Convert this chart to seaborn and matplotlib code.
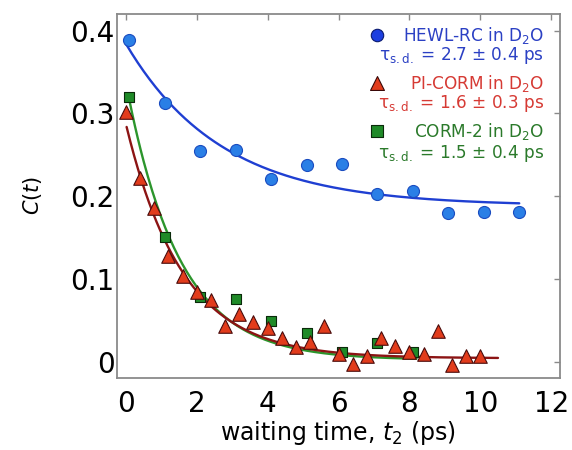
import numpy as np
import pandas as pd
import matplotlib
matplotlib.use("Agg")
import matplotlib.pyplot as plt
import seaborn as sns

# --- datos ---
hewl_t = [0.1, 1.1, 2.1, 3.1, 4.1, 5.1, 6.1, 7.1, 8.1, 9.1, 10.1, 11.1]
hewl_c = [0.389, 0.313, 0.254, 0.256, 0.220, 0.237, 0.239, 0.202, 0.206, 0.180, 0.181, 0.181]

picorm_t = [0.0, 0.4, 0.8, 1.2, 1.6, 2.0, 2.4, 2.8, 3.2, 3.6, 4.0, 4.4, 4.8,
            5.2, 5.6, 6.0, 6.4, 6.8, 7.2, 7.6, 8.0, 8.4, 8.8, 9.2, 9.6, 10.0]
picorm_c = [0.302, 0.222, 0.186, 0.127, 0.103, 0.084, 0.074, 0.043, 0.058, 0.048,
            0.040, 0.029, 0.018, 0.024, 0.043, 0.009, -0.003, 0.007, 0.029, 0.019,
            0.012, 0.009, 0.037, -0.004, 0.007, 0.007]

corm2_t = [0.1, 1.1, 2.1, 3.1, 4.1, 5.1, 6.1, 7.1, 8.1]
corm2_c = [0.320, 0.150, 0.078, 0.076, 0.049, 0.034, 0.012, 0.022, 0.012]

# parámetros de los ajustes exponenciales: C(t) = A exp(-t/tau) + C0
fit_hewl = dict(A=0.196, tau=2.7, C0=0.188, t0=0.0, t1=11.1)
fit_picorm = dict(A=0.283, tau=1.6, C0=0.004, t0=0.02, t1=10.5)
fit_corm2 = dict(A=0.335, tau=1.5, C0=0.002, t0=0.09, t1=8.2)

labels = ["HEWL-RC in D$_2$O", "PI-CORM in D$_2$O", "CORM-2 in D$_2$O"]
tau_labels = ["τ$_{\\rm s.d.}$ = 2.7 ± 0.4 ps",
              "τ$_{\\rm s.d.}$ = 1.6 ± 0.3 ps",
              "τ$_{\\rm s.d.}$ = 1.5 ± 0.4 ps"]


def fit_curve(p):
    t = np.linspace(p["t0"], p["t1"], 200)
    return pd.DataFrame({"t": t, "C": p["A"] * np.exp(-t / p["tau"]) + p["C0"]})


sns.set_theme(style="white")
plt.rcParams["font.family"] = ["DejaVu Sans"]
plt.rcParams["mathtext.fontset"] = "dejavusans"
plt.rcParams["text.color"] = "black"
plt.rcParams["axes.labelcolor"] = "black"

fig = plt.figure(figsize=(5.72, 4.5), dpi=100)
ax = fig.add_axes([0.204, 0.161, 0.775, 0.808])

# curvas de ajuste
sns.lineplot(data=fit_curve(fit_corm2), x="t", y="C", color="#2c952c", lw=1.7, ax=ax)
sns.lineplot(data=fit_curve(fit_picorm), x="t", y="C", color="#8c1414", lw=1.7, ax=ax)
sns.lineplot(data=fit_curve(fit_hewl), x="t", y="C", color="#1f3fd2", lw=1.7, ax=ax)

# puntos
sns.scatterplot(x=corm2_t, y=corm2_c, marker="s", s=55, color="#1f8a28",
                edgecolor="#0a2a0a", linewidth=0.8, ax=ax, zorder=3)
sns.scatterplot(x=picorm_t, y=picorm_c, marker="^", s=95, color="#e23c1c",
                edgecolor="#4a0c0c", linewidth=0.8, ax=ax, zorder=4)
sns.scatterplot(x=hewl_t, y=hewl_c, marker="o", s=75, color="#2a7fe6",
                edgecolor="#1a4cc0", linewidth=0.8, ax=ax, zorder=5)

ax.set_xlim(-0.26, 12.25)
ax.set_ylim(-0.0193, 0.420)
ax.set_xticks([0, 2, 4, 6, 8, 10, 12])
ax.set_yticks([0, 0.1, 0.2, 0.3, 0.4])
ax.set_yticklabels(["0", "0.1", "0.2", "0.3", "0.4"])

for sp in ax.spines.values():
    sp.set_color("#8a8a8a")
    sp.set_linewidth(1.3)
ax.tick_params(axis="both", direction="in", length=4, width=1, color="#8a8a8a",
               labelcolor="black", labelsize=20, top=True, right=True)
ax.tick_params(axis="y", pad=1.5)
ax.tick_params(axis="x", pad=8.9)

ax.set_xlabel("waiting time, $t_2$ (ps)", fontsize=17)
ax.set_ylabel("$C(t)$", fontsize=15)
ax.xaxis.set_label_coords(0.5, -0.113)
ax.yaxis.set_label_coords(-0.165, 0.5)

# leyenda manual (texto alineado a la derecha)
colors_txt = ["#2b40c4", "#d63a34", "#2b7a2b"]
key_style = [dict(marker="o", s=80, c="#1d3fe0", edgecolors="#0a1a70"),
             dict(marker="^", s=100, c="#e23c1c", edgecolors="#3a0808"),
             dict(marker="s", s=80, c="#1f8a28", edgecolors="#0a2a0a")]
row_y = [(35, 56), (83, 104), (131, 153)]
for lab, tl, col, ks, (y1, y2) in zip(labels, tau_labels, colors_txt, key_style, row_y):
    ax.text(544, 450 - y1, lab, color=col, fontsize=12.2, ha="right", va="center",
            transform=None)
    ax.text(544, 450 - y2, tl, color=col, fontsize=12.2, ha="right", va="center",
            transform=None)
    ax.scatter([377], [450 - y1], transform=None, linewidth=0.8, clip_on=False, **ks)

fig.savefig("out.png", dpi=100)
